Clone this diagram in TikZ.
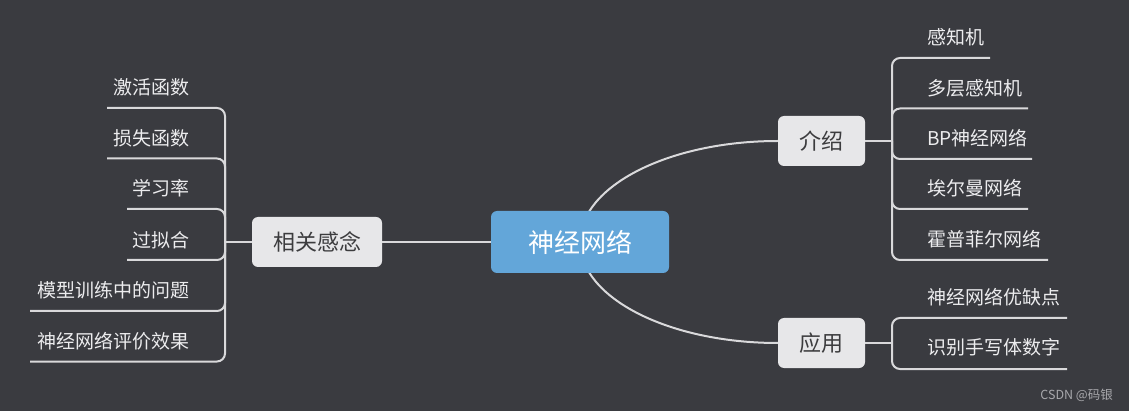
\documentclass[tikz,border=0pt]{standalone}
\usepackage{fontspec}
\setmainfont{Noto Sans CJK SC}
\definecolor{bgc}{RGB}{58,59,64}
\definecolor{rootc}{RGB}{99,166,217}
\definecolor{topicc}{RGB}{231,231,233}
\definecolor{topictext}{RGB}{60,60,62}
\definecolor{linec}{RGB}{217,217,219}
\definecolor{leaftext}{RGB}{236,236,238}
\definecolor{markc}{RGB}{168,168,172}
\tikzset{
  conn/.style={draw=linec, line width=2pt},
  branch/.style={conn, rounded corners=8pt},
  topic/.style={fill=topicc, rounded corners=6pt, text=topictext,
    font=\fontsize{22}{26}\selectfont, minimum height=50pt, inner sep=0pt},
  root/.style={fill=rootc, rounded corners=6pt, text=white,
    font=\fontsize{26}{30}\selectfont, minimum width=178pt, minimum height=62pt, inner sep=0pt},
  leaf/.style={text=leaftext, font=\fontsize{19}{22}\selectfont, inner sep=0pt},
  mark/.style={}
}
\begin{document}
\begin{tikzpicture}[x=1pt,y=-1pt]
\useasboundingbox (0,0) rectangle (1129,411);
\fill[bgc] (0,0) rectangle (1129,411);
% junction coordinates
\coordinate (rc) at (580,242);
\coordinate (jL) at (225,242);
\coordinate (jR1) at (892,141);
\coordinate (jR2) at (892,343);
% topic nodes
\node[topic, minimum width=130pt] (rel) at (317,242) {相关感念};
\node[topic, minimum width=87pt] (intro) at (821.5,141) {介绍};
\node[topic, minimum width=87pt] (app) at (821.5,343) {应用};
% curves from root
\draw[conn] (rc) .. controls (580,186) and (669,141) .. (intro.west);
\draw[conn] (rc) .. controls (580,298) and (669,343) .. (app.west);
% root
\node[root] (root) at (580,242) {神经网络};
\draw[conn] (root.west) -- (rel.east);
% left branch
\draw[conn] (rel.west) -- (jL);
\foreach \n/\t/\y/\u/\x in {l1/激活函数/87/108/107, l2/损失函数/138/158.5/107,
  l3/学习率/188/209/127, l4/过拟合/240/260/127,
  l5/模型训练中的问题/290/311/30, l6/神经网络评价效果/341/361.5/30}{
  \node[leaf, anchor=east] (\n) at (190,\y) {\t};
  \coordinate (\n u) at (\x,\u);
  \draw[branch] (jL) |- (\n u);
}
% intro branch
\draw[conn] (intro.east) -- (jR1);
\foreach \n/\t/\y/\u/\x in {r1/感知机/37/58/990, r2/多层感知机/88/108.5/1028,
  r3/BP神经网络/138/159/1032, r4/埃尔曼网络/188/209/1028, r5/霍普菲尔网络/239/260/1048}{
  \node[leaf, anchor=west] (\n) at (927,\y) {\t};
  \coordinate (\n u) at (\x,\u);
  \draw[branch] (jR1) |- (\n u);
}
% app branch
\draw[conn] (app.east) -- (jR2);
\foreach \n/\t/\y/\u/\x in {a1/神经网络优缺点/297/318/1067, a2/识别手写体数字/347/369/1067}{
  \node[leaf, anchor=west] (\n) at (927,\y) {\t};
  \coordinate (\n u) at (\x,\u);
  \draw[branch] (jR2) |- (\n u);
}
% watermark
\node[anchor=east, text=markc, font=\fontsize{12.5}{14}\selectfont, inner sep=0pt] (wm) at (1113,395) {CSDN @码银};
\end{tikzpicture}
\end{document}
